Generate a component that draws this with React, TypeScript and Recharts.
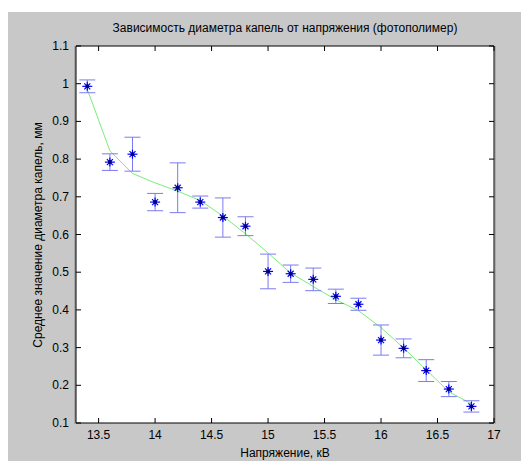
import * as React from "react";
import {
  ComposedChart,
  Line,
  Scatter,
  ErrorBar,
  XAxis,
  YAxis,
  CartesianGrid,
} from "recharts";

// напряжение, кВ
const voltage = [13.4, 13.6, 13.8, 14.0, 14.2, 14.4, 14.6, 14.8, 15.0, 15.2, 15.4, 15.6, 15.8, 16.0, 16.2, 16.4, 16.6, 16.8];
// средний диаметр капель, мм
const meanDiam = [0.993, 0.792, 0.813, 0.686, 0.724, 0.686, 0.645, 0.622, 0.502, 0.496, 0.481, 0.436, 0.415, 0.32, 0.298, 0.239, 0.19, 0.144];
// полуширина погрешности
const errDiam = [0.017, 0.022, 0.045, 0.023, 0.066, 0.016, 0.052, 0.025, 0.046, 0.023, 0.03, 0.019, 0.016, 0.04, 0.025, 0.029, 0.02, 0.015];
// аппроксимация (зелёная линия)
const fitDiam = [0.985, 0.822, 0.762, 0.737, 0.715, 0.69, 0.649, 0.602, 0.551, 0.498, 0.462, 0.427, 0.398, 0.353, 0.299, 0.241, 0.183, 0.151];

const xTicks = [13.5, 14, 14.5, 15, 15.5, 16, 16.5, 17];
const yTicks = [0.1, 0.2, 0.3, 0.4, 0.5, 0.6, 0.7, 0.8, 0.9, 1, 1.1];

const rows = voltage.map((x, i) => ({
  x,
  mean: meanDiam[i],
  err: errDiam[i],
  fit: fitDiam[i],
}));

const W = 521;
const H = 449;
const LEFT = 68;
const RIGHT = 486;
const TOP = 34;
const BOTTOM = 411;
const FONT = "'Liberation Sans', Arial, sans-serif";

function XTick(props: any) {
  const { x, payload } = props;
  return (
    <g>
      <line x1={x} x2={x} y1={BOTTOM} y2={BOTTOM - 5} stroke="#000" />
      <line x1={x} x2={x} y1={TOP} y2={TOP + 5} stroke="#000" />
      <text x={x} y={BOTTOM + 16} textAnchor="middle" fontSize={12} fontFamily={FONT} fill="#000">
        {payload.value}
      </text>
    </g>
  );
}

function YTick(props: any) {
  const { y, payload } = props;
  return (
    <g>
      <line x1={LEFT} x2={LEFT + 5} y1={y} y2={y} stroke="#000" />
      <line x1={RIGHT} x2={RIGHT - 5} y1={y} y2={y} stroke="#000" />
      <text x={LEFT - 7} y={y + 4} textAnchor="end" fontSize={12} fontFamily={FONT} fill="#000">
        {payload.value}
      </text>
    </g>
  );
}

function StarMarker(props: any) {
  const { cx, cy } = props;
  if (cx == null || cy == null) return <g />;
  return (
    <g stroke="#0000ff" strokeWidth={1.2}>
      <line x1={cx - 5} x2={cx + 5} y1={cy} y2={cy} />
      <line x1={cx} x2={cx} y1={cy - 4.5} y2={cy + 4.5} />
      <line x1={cx - 3} x2={cx + 3} y1={cy - 3} y2={cy + 3} />
      <line x1={cx - 3} x2={cx + 3} y1={cy + 3} y2={cy - 3} />
      <circle cx={cx} cy={cy} r={2} fill="#00007a" stroke="none" />
    </g>
  );
}

export default function App() {
  return (
    <div style={{ paddingTop: 4 }}>
      <div style={{ position: "relative", width: W, height: H, background: "#c8c8c8", fontFamily: FONT }}>
        {/* тень рамки осей */}
        <div style={{ position: "absolute", left: LEFT - 2, top: TOP, width: 2, height: BOTTOM - TOP + 1, background: "#a9a9a9" }} />
        <div style={{ position: "absolute", left: RIGHT + 1, top: TOP, width: 1, height: BOTTOM - TOP + 1, background: "#a9a9a9" }} />
        <ComposedChart
          width={W}
          height={H}
          data={rows}
          margin={{ top: 0, right: 0, bottom: 0, left: 0 }}
          style={{ position: "absolute", left: 0, top: 0 }}
        >
          <CartesianGrid fill="#ffffff" horizontal={false} vertical={false} />
          <XAxis
            dataKey="x"
            type="number"
            domain={[13.3, 17]}
            ticks={xTicks}
            allowDataOverflow
            height={H - BOTTOM}
            axisLine={{ stroke: "#000" }}
            tickLine={false}
            tick={<XTick />}
            interval={0}
          />
          <XAxis
            xAxisId="top"
            dataKey="x"
            type="number"
            orientation="top"
            domain={[13.3, 17]}
            height={TOP}
            axisLine={{ stroke: "#000" }}
            tickLine={false}
            tick={false}
          />
          <YAxis
            type="number"
            domain={[0.1, 1.1]}
            ticks={yTicks}
            allowDataOverflow
            width={LEFT}
            axisLine={{ stroke: "#000" }}
            tickLine={false}
            tick={<YTick />}
            interval={0}
          />
          <YAxis
            yAxisId="right"
            type="number"
            orientation="right"
            domain={[0.1, 1.1]}
            width={W - RIGHT}
            axisLine={{ stroke: "#000" }}
            tickLine={false}
            tick={false}
          />
          <Line
            type="linear"
            dataKey="fit"
            stroke="#78ee78"
            strokeWidth={1}
            dot={false}
            activeDot={false}
            isAnimationActive={false}
          />
          <Scatter dataKey="mean" shape={<StarMarker />} isAnimationActive={false}>
            <ErrorBar dataKey="err" direction="y" width={8} stroke="#7b7bf2" strokeWidth={1} isAnimationActive={false} />
          </Scatter>
        </ComposedChart>
        <div
          style={{
            position: "absolute",
            left: LEFT,
            width: RIGHT - LEFT,
            top: 9,
            textAlign: "center",
            fontSize: 12,
            color: "#000",
            whiteSpace: "nowrap",
          }}
        >
          Зависимость диаметра капель от напряжения (фотополимер)
        </div>
        <div
          style={{
            position: "absolute",
            left: LEFT,
            width: RIGHT - LEFT,
            top: 434,
            textAlign: "center",
            fontSize: 12,
            color: "#000",
            whiteSpace: "nowrap",
          }}
        >
          Напряжение, кВ
        </div>
        <div
          style={{
            position: "absolute",
            left: 30,
            top: (TOP + BOTTOM) / 2,
            width: 0,
            height: 0,
          }}
        >
          <div
            style={{
              position: "absolute",
              transform: "translate(-50%, -50%) rotate(-90deg)",
              fontSize: 12,
              color: "#000",
              whiteSpace: "nowrap",
              left: 0,
              top: 0,
            }}
          >
            Среднее значение диаметра капель, мм
          </div>
        </div>
      </div>
    </div>
  );
}
